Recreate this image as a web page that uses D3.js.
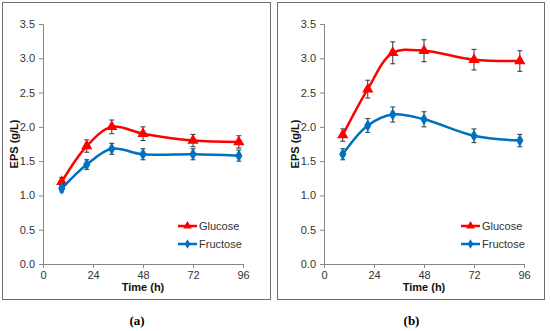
<!DOCTYPE html>
<html>
<head>
<meta charset="utf-8">
<script src="https://cdn.jsdelivr.net/npm/d3@7"></script>
<style>
  body { margin: 0; background: #fff; }
  text { font-family: "Liberation Sans", Arial, sans-serif; }
</style>
</head>
<body>
<div id="chart"></div>
<script>
/* data */
var hours = [9, 21, 33, 48, 72, 94];
var xTicks = [0, 24, 48, 72, 96];
var yTicks = [0, 0.5, 1, 1.5, 2, 2.5, 3, 3.5];
var seriesNames = ["Glucose", "Fructose"];

var glucoseA = [1.20, 1.72, 2.00, 1.90, 1.80, 1.78];
var glucoseAErr = [0.06, 0.09, 0.10, 0.10, 0.09, 0.09];
var fructoseA = [1.10, 1.45, 1.68, 1.60, 1.60, 1.58];
var fructoseAErr = [0.05, 0.07, 0.08, 0.08, 0.08, 0.08];

var glucoseB = [1.88, 2.55, 3.08, 3.11, 2.98, 2.96];
var glucoseBErr = [0.09, 0.13, 0.16, 0.16, 0.15, 0.15];
var fructoseB = [1.60, 2.02, 2.18, 2.11, 1.87, 1.80];
var fructoseBErr = [0.08, 0.10, 0.11, 0.11, 0.10, 0.09];

var red = "#ff0000", blue = "#0070c0";

var svg = d3.select("#chart")
    .append("svg")
    .attr("width", 550)
    .attr("height", 331);

function drawPanel(p) {
    var g = svg.append("g")
        .attr("transform", "translate(" + p.left + ",0)");

    // frame
    g.append("rect")
        .attr("x", 0.5).attr("y", 2.5)
        .attr("width", p.frameW).attr("height", 297)
        .attr("fill", "none")
        .attr("stroke", "#6f6f6f")
        .attr("stroke-width", 1);

    var x = d3.scaleLinear().domain([0, 96]).range([p.axisX, p.axisX + 200]);
    var y = d3.scaleLinear().domain([0, 3.5]).range([264, 24]);

    // y axis
    var ya = g.append("g")
        .attr("transform", "translate(" + p.axisX + ",0)")
        .call(d3.axisLeft(y).tickValues(yTicks).tickFormat(d3.format(".1f")).tickSize(4).tickPadding(4));
    // x axis
    var xa = g.append("g")
        .attr("transform", "translate(0,264)")
        .call(d3.axisBottom(x).tickValues(xTicks).tickSize(4).tickPadding(3));

    [ya, xa].forEach(function (a) {
        a.select(".domain").attr("stroke", "#868686");
        a.selectAll(".tick line").attr("stroke", "#868686");
        a.selectAll("text").attr("fill", "#333").style("font-size", "11px")
            .style("font-family", "'Liberation Sans', Arial, sans-serif");
    });

    // axis titles
    g.append("text")
        .attr("transform", "translate(" + (p.axisX - 25) + ",144) rotate(-90)")
        .attr("text-anchor", "middle")
        .style("font-size", "11px").style("font-weight", "bold")
        .attr("fill", "#111")
        .text("EPS (g/L)");
    g.append("text")
        .attr("x", p.axisX + 100).attr("y", 291)
        .attr("text-anchor", "middle")
        .style("font-size", "11px").style("font-weight", "bold")
        .attr("fill", "#111")
        .text("Time (h)");

    // caption
    g.append("text")
        .attr("x", p.frameW / 2 + 1).attr("y", 325)
        .attr("text-anchor", "middle")
        .style("font-family", "'Liberation Serif', 'Times New Roman', serif")
        .style("font-size", "13px").style("font-weight", "bold")
        .attr("fill", "#000")
        .text(p.caption);

    var line = d3.line()
        .x(function (d) { return x(d.t); })
        .y(function (d) { return y(d.v); })
        .curve(d3.curveCatmullRom.alpha(0.5));

    p.series.forEach(function (s) {
        var pts = hours.map(function (t, i) { return { t: t, v: s.values[i], e: s.err[i] }; });

        g.append("path")
            .datum(pts)
            .attr("fill", "none")
            .attr("stroke", s.color)
            .attr("stroke-width", 2.5)
            .attr("d", line);

        // error bars
        var eb = g.append("g").attr("stroke", "#333").attr("stroke-width", 1);
        pts.forEach(function (d) {
            eb.append("line")
                .attr("x1", x(d.t)).attr("x2", x(d.t))
                .attr("y1", y(d.v - d.e)).attr("y2", y(d.v + d.e));
            [d.v - d.e, d.v + d.e].forEach(function (v) {
                eb.append("line")
                    .attr("x1", x(d.t) - 2.5).attr("x2", x(d.t) + 2.5)
                    .attr("y1", y(v)).attr("y2", y(v));
            });
        });

        // markers
        var sym = d3.symbol().type(s.shape).size(s.size);
        g.append("g").selectAll("path")
            .data(pts)
            .join("path")
            .attr("transform", function (d) { return "translate(" + x(d.t) + "," + y(d.v) + ")"; })
            .attr("d", sym)
            .attr("fill", s.color);
    });

    // legend
    p.series.forEach(function (s, i) {
        var ly = 226 + i * 18;
        var lg = g.append("g");
        lg.append("line")
            .attr("x1", p.legendX).attr("x2", p.legendX + 19)
            .attr("y1", ly).attr("y2", ly)
            .attr("stroke", s.color).attr("stroke-width", 2.5);
        lg.append("path")
            .attr("transform", "translate(" + (p.legendX + 9.5) + "," + ly + ")")
            .attr("d", d3.symbol().type(s.shape).size(s.size * 0.6))
            .attr("fill", s.color);
        lg.append("text")
            .attr("x", p.legendX + 21).attr("y", ly + 4)
            .style("font-size", "11px")
            .attr("fill", "#333")
            .text(seriesNames[i]);
    });
}

drawPanel({
    left: 2, frameW: 268, axisX: 41, legendX: 176, caption: "(a)",
    series: [
        { values: glucoseA, err: glucoseAErr, color: red, shape: d3.symbolTriangle, size: 55 },
        { values: fructoseA, err: fructoseAErr, color: blue, shape: d3.symbolDiamond, size: 45 }
    ]
});
drawPanel({
    left: 277, frameW: 267, axisX: 47, legendX: 184, caption: "(b)",
    series: [
        { values: glucoseB, err: glucoseBErr, color: red, shape: d3.symbolTriangle, size: 55 },
        { values: fructoseB, err: fructoseBErr, color: blue, shape: d3.symbolDiamond, size: 45 }
    ]
});
</script>
</body>
</html>
